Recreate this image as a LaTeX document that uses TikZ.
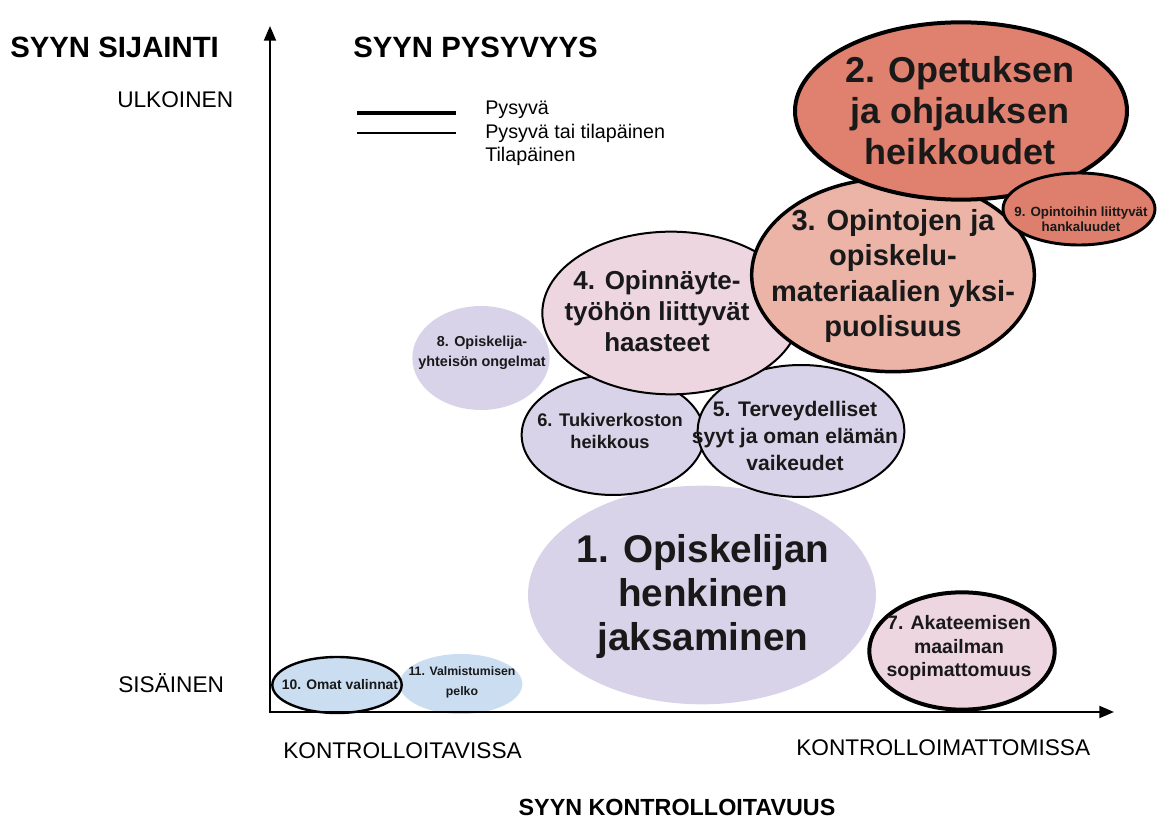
\documentclass[tikz,border=0pt]{standalone}
\usepackage{fontspec}
\setmainfont{Liberation Sans}
\usepackage{xcolor}
\usepackage{tikz}
\usetikzlibrary{positioning,shapes,arrows.meta}
\definecolor{salmonDark}{HTML}{E0806E}
\definecolor{salmonMid}{HTML}{DE7E6C}
\definecolor{salmonLight}{HTML}{ECB3A7}
\definecolor{pinkLight}{HTML}{EDD6DF}
\definecolor{lavender}{HTML}{D8D3E8}
\definecolor{blueLight}{HTML}{CADDF1}
\tikzstyle{causeE}=[ellipse, inner sep=0pt, outer sep=0pt]
\tikzstyle{causeT}=[align=center, inner sep=0pt, text=black!90]
\tikzstyle{axisT}=[anchor=west, inner sep=0pt, font=\fontsize{17}{20}\selectfont]
\tikzstyle{headT}=[anchor=west, inner sep=0pt, font=\fontsize{22}{26}\selectfont\bfseries]
\tikzstyle{legendT}=[anchor=west, inner sep=0pt, font=\fontsize{14.8}{17}\selectfont]

\begin{document}
\begin{tikzpicture}[x=0.75pt, y=-0.75pt]
      \useasboundingbox (0,0) rectangle (1158,827);
      \node[causeE, fill=lavender, minimum width=261pt, minimum height=164pt] (e1) at (702,595) {};
      \node[causeE, fill=lavender, minimum width=103pt, minimum height=78pt] (e8) at (481,358) {};
      \node[causeE, fill=lavender, draw, line width=1.5pt, minimum width=137pt, minimum height=90pt] (e6) at (613,435) {};
      \node[causeE, fill=lavender, draw, line width=1.5pt, minimum width=155pt, minimum height=99pt] (e5) at (801,431) {};
      \node[causeE, fill=pinkLight, draw, line width=1.5pt, minimum width=193pt, minimum height=122pt] (e4) at (671,313) {};
      \node[causeE, fill=salmonLight, draw, line width=2.6pt, minimum width=212pt, minimum height=145pt] (e3) at (893,275) {};
      \node[causeE, fill=salmonDark, draw, line width=3pt, minimum width=249pt, minimum height=133pt] (e2) at (961,111) {};
      \node[causeE, fill=salmonMid, draw, line width=2.2pt, minimum width=114pt, minimum height=54pt] (e9) at (1079,209) {};
      \node[causeE, fill=pinkLight, draw, line width=3pt, minimum width=139pt, minimum height=88pt] (e7) at (962,651) {};
      \node[causeE, fill=blueLight, minimum width=92pt, minimum height=45pt] (e11) at (461,684) {};
      \node[causeE, fill=blueLight, draw, line width=1.8pt, minimum width=97pt, minimum height=42pt] (e10) at (337,685) {};

      \node[causeT, font=\fontsize{29}{33}\selectfont\bfseries] (t1) at (703,597) {1. Opiskelijan\\henkinen\\jaksaminen};
      \node[causeT, font=\fontsize{27}{30.75}\selectfont\bfseries] (t2) at (960,111) {2. Opetuksen\\ja ohjauksen\\heikkoudet};
      \node[causeT, font=\fontsize{21.8}{26.7}\selectfont\bfseries] (t3) at (893,276) {3. Opintojen ja\\opiskelu-\\materiaalien yksi-\\puolisuus};
      \node[causeT, font=\fontsize{19.5}{23.2}\selectfont\bfseries] (t4) at (657,311) {4. Opinnäyte-\\työhön liittyvät\\haasteet};
      \node[causeT, font=\fontsize{15.8}{20}\selectfont\bfseries] (t5) at (795,436) {5. Terveydelliset\\syyt ja oman elämän\\vaikeudet};
      \node[causeT, font=\fontsize{13.7}{16.5}\selectfont\bfseries] (t6) at (610,431) {6. Tukiverkoston\\heikkous};
      \node[causeT, font=\fontsize{14.6}{17.6}\selectfont\bfseries] (t7) at (959,648) {7. Akateemisen\\maailman\\sopimattomuus};
      \node[causeT, font=\fontsize{10.8}{15}\selectfont\bfseries] (t8) at (482,353) {8. Opiskelija-\\yhteisön ongelmat};
      \node[causeT, font=\fontsize{10}{11.6}\selectfont\bfseries] (t9) at (1081,219) {9. Opintoihin liittyvät\\hankaluudet};
      \node[causeT, font=\fontsize{10.4}{12}\selectfont\bfseries] (t10) at (340,685) {10. Omat valinnat};
      \node[causeT, font=\fontsize{9.2}{15}\selectfont\bfseries] (t11) at (462,682) {11. Valmistumisen\\pelko};

      \coordinate (origin) at (270,712);
      \coordinate (ytip) at (270,26);
      \coordinate (xtip) at (1114,712);
      \draw[line width=1.5pt, {Triangle[length=11pt,width=9pt]}-{Triangle[length=11pt,width=9pt]}] (ytip) -- (origin) -- (xtip);

      \node[headT] (hSij) at (10,47) {SYYN SIJAINTI};
      \node[headT] (hPys) at (353,47) {SYYN PYSYVYYS};
      \node[headT, anchor=center, font=\fontsize{17.5}{21}\selectfont\bfseries] (hKon) at (677,807) {SYYN KONTROLLOITAVUUS};
      \node[axisT] (ulk) at (117,100) {ULKOINEN};
      \node[axisT] (sis) at (118,683) {SISÄINEN};
      \node[axisT] (kon) at (283,751) {KONTROLLOITAVISSA};
      \node[axisT] (kom) at (796,748) {KONTROLLOIMATTOMISSA};

      \coordinate (lgA) at (357,113);
      \coordinate (lgB) at (456,113);
      \coordinate (lgC) at (357,133);
      \coordinate (lgD) at (456,133);
      \draw[line width=3.6pt] (lgA) -- (lgB);
      \draw[line width=1.4pt] (lgC) -- (lgD);
      \node[legendT] (lgP) at (485,110) {Pysyvä};
      \node[legendT] (lgPT) at (485,133) {Pysyvä tai tilapäinen};
      \node[legendT] (lgT) at (485,156) {Tilapäinen};
    \end{tikzpicture}
\end{document}
